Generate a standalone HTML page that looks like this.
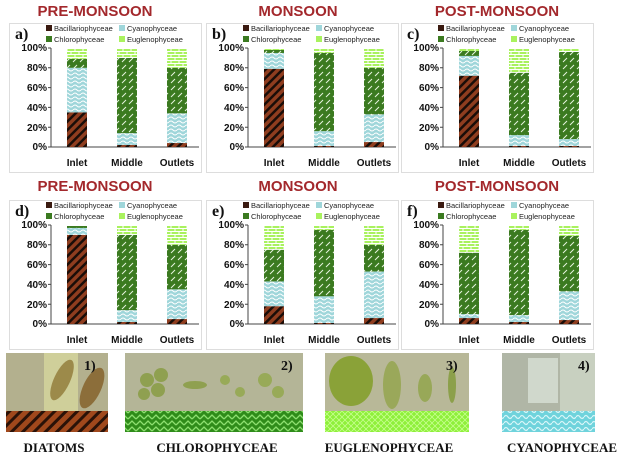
<!DOCTYPE html>
<html><head><meta charset="utf-8"><style>
html,body{margin:0;padding:0;background:#fff;}
svg{display:block;}
.t{font-family:"Liberation Sans",sans-serif;font-weight:bold;font-size:15px;fill:#a3282c;text-anchor:middle;}
.lg{font-family:"Liberation Sans",sans-serif;font-size:7.5px;fill:#222;}
.yl{font-family:"Liberation Sans",sans-serif;font-weight:bold;font-size:10px;fill:#111;text-anchor:end;}
.xl{font-family:"Liberation Sans",sans-serif;font-weight:bold;font-size:10px;fill:#111;text-anchor:middle;}
.pl{font-family:"Liberation Serif",serif;font-weight:bold;font-size:16px;fill:#111;}
.bl{font-family:"Liberation Serif",serif;font-weight:bold;font-size:13px;fill:#111;text-anchor:middle;}
</style></head><body>
<svg width="624" height="456" viewBox="0 0 624 456" xmlns="http://www.w3.org/2000/svg">
<defs>
<pattern id="pB" width="6" height="6" patternUnits="userSpaceOnUse" patternTransform="rotate(45)"><rect width="6" height="6" fill="#8f3d1f"/><rect width="2.5" height="6" fill="#1a0d08"/></pattern>
<pattern id="pC" width="8" height="8" patternUnits="userSpaceOnUse"><rect width="8" height="8" fill="#9fd6da"/><path d="M0 2 Q2 0 4 2 T8 2 M0 6 Q2 4 4 6 T8 6" stroke="#fff" stroke-width="1" fill="none"/></pattern>
<pattern id="pG" width="7" height="7" patternUnits="userSpaceOnUse"><rect width="7" height="7" fill="#3b7a20"/><path d="M1 6 L5 2" stroke="#e8f5e0" stroke-width="1"/></pattern>
<pattern id="pE" width="8" height="6" patternUnits="userSpaceOnUse"><rect width="8" height="6" fill="#a9f25e"/><path d="M0 0.5H8 M0 3.5H8 M2 0.5V3.5 M6 3.5V6" stroke="#fff" stroke-width="1"/></pattern>
<pattern id="pB2" width="8" height="8" patternUnits="userSpaceOnUse" patternTransform="rotate(45)"><rect width="8" height="8" fill="#a0481c"/><rect width="3" height="8" fill="#2a1208"/></pattern>
<pattern id="pG2" width="8" height="6" patternUnits="userSpaceOnUse"><rect width="8" height="6" fill="#2f8c1a"/><path d="M0 5 L4 1 L8 5" stroke="#8ee070" stroke-width="1.3" fill="none"/></pattern>
<pattern id="pE2" width="6" height="6" patternUnits="userSpaceOnUse"><rect width="6" height="6" fill="#8ef03a"/><path d="M0 3 L3 0 L6 3 L3 6Z" stroke="#c8ff90" stroke-width="0.8" fill="none"/></pattern>
<pattern id="pC2" width="8" height="6" patternUnits="userSpaceOnUse"><rect width="8" height="6" fill="#6fd3dc"/><path d="M0 3 Q2 0 4 3 T8 3" stroke="#d8f6f8" stroke-width="1.2" fill="none"/></pattern>
</defs>

<!-- titles -->
<text class="t" x="95" y="16">PRE-MONSOON</text>
<text class="t" x="298" y="16">MONSOON</text>
<text class="t" x="497" y="16">POST-MONSOON</text>
<text class="t" x="95" y="191">PRE-MONSOON</text>
<text class="t" x="298" y="191">MONSOON</text>
<text class="t" x="497" y="191">POST-MONSOON</text>

<!-- Panel a -->
<g transform="translate(9,0)">
<rect x="0.5" y="23.5" width="192" height="149" fill="#fff" stroke="#ddd"/>
<text class="pl" x="6" y="39">a)</text>
<rect x="37" y="25" width="6" height="6" fill="#3a1a10"/><text class="lg" x="45" y="31">Bacillariophyceae</text>
<rect x="110" y="25" width="6" height="6" fill="#9fd6da"/><text class="lg" x="118" y="31">Cyanophyceae</text>
<rect x="37" y="36" width="6" height="6" fill="#3b7a20"/><text class="lg" x="45" y="42">Chlorophyceae</text>
<rect x="110" y="36" width="6" height="6" fill="#a9f25e"/><text class="lg" x="118" y="42">Euglenophyceae</text>
<text class="yl" x="38" y="51">100%</text><text class="yl" x="38" y="71">80%</text><text class="yl" x="38" y="91">60%</text><text class="yl" x="38" y="111">40%</text><text class="yl" x="38" y="131">20%</text><text class="yl" x="38" y="150">0%</text>
<path d="M42 48V147H190 M39 48H42 M39 67.8H42 M39 87.6H42 M39 107.4H42 M39 127.2H42 M39 147H42" stroke="#444" fill="none"/>
<rect x="58" y="112.35" width="20" height="34.65" fill="url(#pB)"/><rect x="58" y="67.8" width="20" height="44.55" fill="url(#pC)"/><rect x="58" y="58.89" width="20" height="8.91" fill="url(#pG)"/><rect x="58" y="48" width="20" height="10.89" fill="url(#pE)"/>
<rect x="108" y="145.02" width="20" height="1.98" fill="url(#pB)"/><rect x="108" y="133.14" width="20" height="11.88" fill="url(#pC)"/><rect x="108" y="57.9" width="20" height="75.24" fill="url(#pG)"/><rect x="108" y="48" width="20" height="9.9" fill="url(#pE)"/>
<rect x="158" y="143.04" width="20" height="3.96" fill="url(#pB)"/><rect x="158" y="113.34" width="20" height="29.7" fill="url(#pC)"/><rect x="158" y="67.8" width="20" height="45.54" fill="url(#pG)"/><rect x="158" y="48" width="20" height="19.8" fill="url(#pE)"/>
<text class="xl" x="68" y="166">Inlet</text><text class="xl" x="118" y="166">Middle</text><text class="xl" x="168" y="166">Outlets</text>
</g>

<!-- Panel b -->
<g transform="translate(206,0)">
<rect x="0.5" y="23.5" width="192" height="149" fill="#fff" stroke="#ddd"/>
<text class="pl" x="6" y="39">b)</text>
<rect x="37" y="25" width="6" height="6" fill="#3a1a10"/><text class="lg" x="45" y="31">Bacillariophyceae</text>
<rect x="110" y="25" width="6" height="6" fill="#9fd6da"/><text class="lg" x="118" y="31">Cyanophyceae</text>
<rect x="37" y="36" width="6" height="6" fill="#3b7a20"/><text class="lg" x="45" y="42">Chlorophyceae</text>
<rect x="110" y="36" width="6" height="6" fill="#a9f25e"/><text class="lg" x="118" y="42">Euglenophyceae</text>
<text class="yl" x="38" y="51">100%</text><text class="yl" x="38" y="71">80%</text><text class="yl" x="38" y="91">60%</text><text class="yl" x="38" y="111">40%</text><text class="yl" x="38" y="131">20%</text><text class="yl" x="38" y="150">0%</text>
<path d="M42 48V147H190 M39 48H42 M39 67.8H42 M39 87.6H42 M39 107.4H42 M39 127.2H42 M39 147H42" stroke="#444" fill="none"/>
<rect x="58" y="68.79" width="20" height="78.21" fill="url(#pB)"/><rect x="58" y="52.95" width="20" height="15.84" fill="url(#pC)"/><rect x="58" y="49.98" width="20" height="2.97" fill="url(#pG)"/><rect x="58" y="48" width="20" height="1.98" fill="url(#pE)"/>
<rect x="108" y="146.01" width="20" height="0.99" fill="url(#pB)"/><rect x="108" y="131.16" width="20" height="14.85" fill="url(#pC)"/><rect x="108" y="52.95" width="20" height="78.21" fill="url(#pG)"/><rect x="108" y="48" width="20" height="4.95" fill="url(#pE)"/>
<rect x="158" y="142.05" width="20" height="4.95" fill="url(#pB)"/><rect x="158" y="114.33" width="20" height="27.72" fill="url(#pC)"/><rect x="158" y="67.8" width="20" height="46.53" fill="url(#pG)"/><rect x="158" y="48" width="20" height="19.8" fill="url(#pE)"/>
<text class="xl" x="68" y="166">Inlet</text><text class="xl" x="118" y="166">Middle</text><text class="xl" x="168" y="166">Outlets</text>
</g>

<!-- Panel c -->
<g transform="translate(401,0)">
<rect x="0.5" y="23.5" width="192" height="149" fill="#fff" stroke="#ddd"/>
<text class="pl" x="6" y="39">c)</text>
<rect x="37" y="25" width="6" height="6" fill="#3a1a10"/><text class="lg" x="45" y="31">Bacillariophyceae</text>
<rect x="110" y="25" width="6" height="6" fill="#9fd6da"/><text class="lg" x="118" y="31">Cyanophyceae</text>
<rect x="37" y="36" width="6" height="6" fill="#3b7a20"/><text class="lg" x="45" y="42">Chlorophyceae</text>
<rect x="110" y="36" width="6" height="6" fill="#a9f25e"/><text class="lg" x="118" y="42">Euglenophyceae</text>
<text class="yl" x="38" y="51">100%</text><text class="yl" x="38" y="71">80%</text><text class="yl" x="38" y="91">60%</text><text class="yl" x="38" y="111">40%</text><text class="yl" x="38" y="131">20%</text><text class="yl" x="38" y="150">0%</text>
<path d="M42 48V147H190 M39 48H42 M39 67.8H42 M39 87.6H42 M39 107.4H42 M39 127.2H42 M39 147H42" stroke="#444" fill="none"/>
<rect x="58" y="75.72" width="20" height="71.28" fill="url(#pB)"/><rect x="58" y="55.92" width="20" height="19.8" fill="url(#pC)"/><rect x="58" y="50.97" width="20" height="4.95" fill="url(#pG)"/><rect x="58" y="48" width="20" height="2.97" fill="url(#pE)"/>
<rect x="108" y="146.01" width="20" height="0.99" fill="url(#pB)"/><rect x="108" y="135.12" width="20" height="10.89" fill="url(#pC)"/><rect x="108" y="72.75" width="20" height="62.37" fill="url(#pG)"/><rect x="108" y="48" width="20" height="24.75" fill="url(#pE)"/>
<rect x="158" y="146.01" width="20" height="0.99" fill="url(#pB)"/><rect x="158" y="139.08" width="20" height="6.93" fill="url(#pC)"/><rect x="158" y="51.96" width="20" height="87.12" fill="url(#pG)"/><rect x="158" y="48" width="20" height="3.96" fill="url(#pE)"/>
<text class="xl" x="68" y="166">Inlet</text><text class="xl" x="118" y="166">Middle</text><text class="xl" x="168" y="166">Outlets</text>
</g>

<!-- Panel d -->
<g transform="translate(9,177)">
<rect x="0.5" y="23.5" width="192" height="149" fill="#fff" stroke="#ddd"/>
<text class="pl" x="6" y="39">d)</text>
<rect x="37" y="25" width="6" height="6" fill="#3a1a10"/><text class="lg" x="45" y="31">Bacillariophyceae</text>
<rect x="110" y="25" width="6" height="6" fill="#9fd6da"/><text class="lg" x="118" y="31">Cyanophyceae</text>
<rect x="37" y="36" width="6" height="6" fill="#3b7a20"/><text class="lg" x="45" y="42">Chlorophyceae</text>
<rect x="110" y="36" width="6" height="6" fill="#a9f25e"/><text class="lg" x="118" y="42">Euglenophyceae</text>
<text class="yl" x="38" y="51">100%</text><text class="yl" x="38" y="71">80%</text><text class="yl" x="38" y="91">60%</text><text class="yl" x="38" y="111">40%</text><text class="yl" x="38" y="131">20%</text><text class="yl" x="38" y="150">0%</text>
<path d="M42 48V147H190 M39 48H42 M39 67.8H42 M39 87.6H42 M39 107.4H42 M39 127.2H42 M39 147H42" stroke="#444" fill="none"/>
<rect x="58" y="57.9" width="20" height="89.1" fill="url(#pB)"/><rect x="58" y="50.97" width="20" height="6.93" fill="url(#pC)"/><rect x="58" y="48.99" width="20" height="1.98" fill="url(#pG)"/><rect x="58" y="48" width="20" height="0.99" fill="url(#pE)"/>
<rect x="108" y="145.02" width="20" height="1.98" fill="url(#pB)"/><rect x="108" y="133.14" width="20" height="11.88" fill="url(#pC)"/><rect x="108" y="57.9" width="20" height="75.24" fill="url(#pG)"/><rect x="108" y="48" width="20" height="9.9" fill="url(#pE)"/>
<rect x="158" y="142.05" width="20" height="4.95" fill="url(#pB)"/><rect x="158" y="112.35" width="20" height="29.7" fill="url(#pC)"/><rect x="158" y="67.8" width="20" height="44.55" fill="url(#pG)"/><rect x="158" y="48" width="20" height="19.8" fill="url(#pE)"/>
<text class="xl" x="68" y="166">Inlet</text><text class="xl" x="118" y="166">Middle</text><text class="xl" x="168" y="166">Outlets</text>
</g>

<!-- Panel e -->
<g transform="translate(206,177)">
<rect x="0.5" y="23.5" width="192" height="149" fill="#fff" stroke="#ddd"/>
<text class="pl" x="6" y="39">e)</text>
<rect x="37" y="25" width="6" height="6" fill="#3a1a10"/><text class="lg" x="45" y="31">Bacillariophyceae</text>
<rect x="110" y="25" width="6" height="6" fill="#9fd6da"/><text class="lg" x="118" y="31">Cyanophyceae</text>
<rect x="37" y="36" width="6" height="6" fill="#3b7a20"/><text class="lg" x="45" y="42">Chlorophyceae</text>
<rect x="110" y="36" width="6" height="6" fill="#a9f25e"/><text class="lg" x="118" y="42">Euglenophyceae</text>
<text class="yl" x="38" y="51">100%</text><text class="yl" x="38" y="71">80%</text><text class="yl" x="38" y="91">60%</text><text class="yl" x="38" y="111">40%</text><text class="yl" x="38" y="131">20%</text><text class="yl" x="38" y="150">0%</text>
<path d="M42 48V147H190 M39 48H42 M39 67.8H42 M39 87.6H42 M39 107.4H42 M39 127.2H42 M39 147H42" stroke="#444" fill="none"/>
<rect x="58" y="129.18" width="20" height="17.82" fill="url(#pB)"/><rect x="58" y="104.43" width="20" height="24.75" fill="url(#pC)"/><rect x="58" y="72.75" width="20" height="31.68" fill="url(#pG)"/><rect x="58" y="48" width="20" height="24.75" fill="url(#pE)"/>
<rect x="108" y="146.01" width="20" height="0.99" fill="url(#pB)"/><rect x="108" y="119.28" width="20" height="26.73" fill="url(#pC)"/><rect x="108" y="52.95" width="20" height="66.33" fill="url(#pG)"/><rect x="108" y="48" width="20" height="4.95" fill="url(#pE)"/>
<rect x="158" y="141.06" width="20" height="5.94" fill="url(#pB)"/><rect x="158" y="94.53" width="20" height="46.53" fill="url(#pC)"/><rect x="158" y="67.8" width="20" height="26.73" fill="url(#pG)"/><rect x="158" y="48" width="20" height="19.8" fill="url(#pE)"/>
<text class="xl" x="68" y="166">Inlet</text><text class="xl" x="118" y="166">Middle</text><text class="xl" x="168" y="166">Outlets</text>
</g>

<!-- Panel f -->
<g transform="translate(401,177)">
<rect x="0.5" y="23.5" width="192" height="149" fill="#fff" stroke="#ddd"/>
<text class="pl" x="6" y="39">f)</text>
<rect x="37" y="25" width="6" height="6" fill="#3a1a10"/><text class="lg" x="45" y="31">Bacillariophyceae</text>
<rect x="110" y="25" width="6" height="6" fill="#9fd6da"/><text class="lg" x="118" y="31">Cyanophyceae</text>
<rect x="37" y="36" width="6" height="6" fill="#3b7a20"/><text class="lg" x="45" y="42">Chlorophyceae</text>
<rect x="110" y="36" width="6" height="6" fill="#a9f25e"/><text class="lg" x="118" y="42">Euglenophyceae</text>
<text class="yl" x="38" y="51">100%</text><text class="yl" x="38" y="71">80%</text><text class="yl" x="38" y="91">60%</text><text class="yl" x="38" y="111">40%</text><text class="yl" x="38" y="131">20%</text><text class="yl" x="38" y="150">0%</text>
<path d="M42 48V147H190 M39 48H42 M39 67.8H42 M39 87.6H42 M39 107.4H42 M39 127.2H42 M39 147H42" stroke="#444" fill="none"/>
<rect x="58" y="141.06" width="20" height="5.94" fill="url(#pB)"/><rect x="58" y="137.1" width="20" height="3.96" fill="url(#pC)"/><rect x="58" y="75.72" width="20" height="61.38" fill="url(#pG)"/><rect x="58" y="48" width="20" height="27.72" fill="url(#pE)"/>
<rect x="108" y="145.02" width="20" height="1.98" fill="url(#pB)"/><rect x="108" y="138.09" width="20" height="6.93" fill="url(#pC)"/><rect x="108" y="52.95" width="20" height="85.14" fill="url(#pG)"/><rect x="108" y="48" width="20" height="4.95" fill="url(#pE)"/>
<rect x="158" y="143.04" width="20" height="3.96" fill="url(#pB)"/><rect x="158" y="114.33" width="20" height="28.71" fill="url(#pC)"/><rect x="158" y="58.89" width="20" height="55.44" fill="url(#pG)"/><rect x="158" y="48" width="20" height="10.89" fill="url(#pE)"/>
<text class="xl" x="68" y="166">Inlet</text><text class="xl" x="118" y="166">Middle</text><text class="xl" x="168" y="166">Outlets</text>
</g>

<!-- Bottom photos -->
<rect x="6" y="353" width="102" height="58" fill="#b3b08e"/>
<rect x="44" y="353" width="34" height="58" fill="#cfcf9a"/>
<ellipse cx="62" cy="380" rx="8" ry="22" fill="#9c8a4a" transform="rotate(25 62 380)"/>
<ellipse cx="92" cy="388" rx="9" ry="22" fill="#8c6e3a" transform="rotate(25 92 388)"/>
<rect x="6" y="411" width="102" height="21" fill="url(#pB2)"/>
<text class="pl" x="84" y="370" style="font-size:14px">1)</text>

<rect x="125" y="353" width="178" height="58" fill="#b4b597"/>
<circle cx="147" cy="380" r="7" fill="#8fa050"/><circle cx="161" cy="375" r="7" fill="#8fa050"/><circle cx="158" cy="390" r="7" fill="#8fa050"/><circle cx="144" cy="394" r="6" fill="#8fa050"/>
<ellipse cx="195" cy="385" rx="12" ry="4" fill="#8fa050"/><circle cx="225" cy="380" r="5" fill="#98aa58"/><circle cx="240" cy="392" r="5" fill="#98aa58"/><circle cx="265" cy="380" r="7" fill="#98aa58"/><circle cx="278" cy="392" r="6" fill="#98aa58"/>
<rect x="125" y="411" width="178" height="21" fill="url(#pG2)"/>
<text class="pl" x="281" y="370" style="font-size:14px">2)</text>

<rect x="325" y="353" width="144" height="58" fill="#b8b898"/>
<ellipse cx="351" cy="381" rx="22" ry="25" fill="#8aa238"/>
<ellipse cx="392" cy="385" rx="9" ry="24" fill="#9aa85a"/><ellipse cx="425" cy="388" rx="7" ry="14" fill="#98a858"/><ellipse cx="452" cy="385" rx="4" ry="18" fill="#8ca04a"/>
<rect x="325" y="411" width="144" height="21" fill="url(#pE2)"/>
<text class="pl" x="446" y="370" style="font-size:14px">3)</text>

<rect x="502" y="353" width="93" height="58" fill="#b0b6a6"/>
<rect x="528" y="358" width="30" height="45" fill="#d0d8cc"/>
<rect x="560" y="353" width="35" height="58" fill="#c8d0c0"/>
<rect x="502" y="411" width="93" height="21" fill="url(#pC2)"/>
<text class="pl" x="578" y="370" style="font-size:14px">4)</text>

<text class="bl" x="54" y="452">DIATOMS</text>
<text class="bl" x="217" y="452">CHLOROPHYCEAE</text>
<text class="bl" x="389" y="452">EUGLENOPHYCEAE</text>
<text class="bl" x="562" y="452">CYANOPHYCEAE</text>
</svg>
</body></html>
